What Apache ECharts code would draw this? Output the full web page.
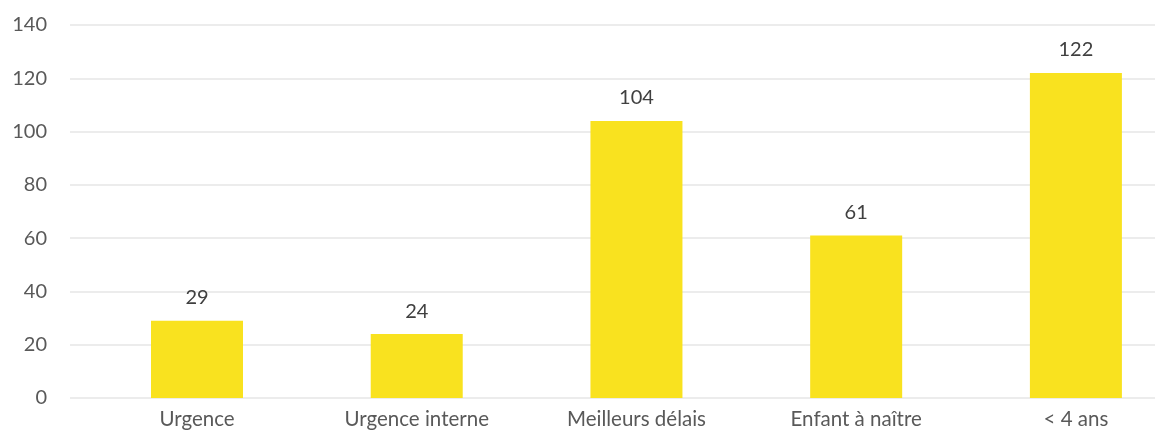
<!DOCTYPE html>
<html>
<head>
<meta charset="utf-8">
<script src="https://cdn.jsdelivr.net/npm/echarts@6/dist/echarts.min.js"></script>
<style>html,body{margin:0;padding:0;background:#fff;}#c{width:1155px;height:441px;}</style>
</head>
<body>
<div id="c"></div>
<script>
var categories = ["Urgence", "Urgence interne", "Meilleurs délais", "Enfant à naître", "< 4 ans"];
var values = [29, 24, 104, 61, 122];
var yTicks = [0, 20, 40, 60, 80, 100, 120, 140];

var chart = echarts.init(document.getElementById('c'));
var FONT = 'Lato';
chart.setOption({
  animation: false,
  grid: { left: 70, right: 0, top: 25, bottom: 43, containLabel: false },
  xAxis: {
    type: 'value',
    min: -0.578,
    max: 4.36,
    splitLine: { show: false },
    axisLine: { show: false },
    axisTick: { show: false },
    axisLabel: {
      customValues: categories.map(function (c, i) { return i; }),
      formatter: function (v) { return categories[Math.round(v)] || ''; },
      color: '#595959', fontFamily: FONT, fontSize: 20.5, margin: 11
    }
  },
  yAxis: {
    type: 'value',
    min: yTicks[0],
    max: yTicks[yTicks.length - 1],
    interval: 20,
    axisLine: { show: false },
    axisTick: { show: false },
    splitLine: { lineStyle: { color: '#E6E6E6', width: 1.5 } },
    axisLabel: { color: '#595959', fontFamily: FONT, fontSize: 20, margin: 23 }
  },
  series: [{
    type: 'bar',
    barWidth: 92,
    data: values.map(function (v, i) { return [i, v]; }),
    itemStyle: { color: '#F9E21F' },
    label: {
      show: true, position: 'top', distance: 13,
      color: '#404040', fontFamily: FONT, fontSize: 20,
      formatter: function (p) { return p.value[1]; }
    }
  }]
});
</script>
</body>
</html>
